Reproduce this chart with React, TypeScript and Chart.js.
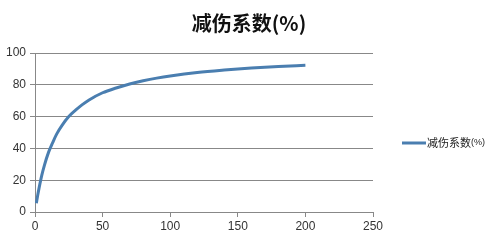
import React, { useEffect, useRef } from "react";
import { Chart, registerables } from "chart.js";

Chart.register(...registerables);

const titleText = "减伤系数(%)";
const seriesName = "减伤系数";
const seriesSuffix = "(%)";
const xValues = [1, 2, 3, 5, 7, 10, 13, 16, 20, 25, 30, 35, 40, 50, 60, 70, 80, 90, 100, 120, 140, 160, 180, 200];
const yValues = [5.5, 10.5, 15, 23, 29.5, 37.5, 43.5, 49, 54.5, 60, 64, 67.5, 70.5, 75, 78, 80.5, 82.5, 84.2, 85.6, 87.8, 89.3, 90.5, 91.5, 92.3];

const FONT = "'Liberation Sans', Arial, sans-serif";
const CJK = "'Noto Sans CJK SC', sans-serif";

const overlay = {
  id: "overlay",
  afterDraw(chart: any) {
    const ctx = chart.ctx;
    ctx.save();
    ctx.fillStyle = "#111";
    ctx.font = `bold 20px ${CJK}`;
    ctx.textAlign = "center";
    ctx.textBaseline = "middle";
    ctx.fillText(titleText, 249, 23);
    // legend
    const ly = 143;
    ctx.strokeStyle = "#4a7eb0";
    ctx.lineWidth = 3;
    ctx.beginPath();
    ctx.moveTo(402, ly);
    ctx.lineTo(426, ly);
    ctx.stroke();
    ctx.textAlign = "left";
    ctx.fillStyle = "#222";
    ctx.font = `11px ${CJK}`;
    ctx.fillText(seriesName, 427, ly);
    const w = ctx.measureText(seriesName).width;
    ctx.font = `9px ${FONT}`;
    ctx.fillText(seriesSuffix, 427 + w, ly);
    ctx.restore();
  },
};

export default function App() {
  const ref = useRef<HTMLCanvasElement>(null);
  useEffect(() => {
    document.body.style.margin = "0";
    const data = xValues.map((x, i) => ({ x, y: yValues[i] }));
    const chart = new Chart(ref.current!, {
      type: "scatter",
      data: {
        datasets: [
          {
            label: seriesName + seriesSuffix,
            data,
            showLine: true,
            borderColor: "#4a7eb0",
            borderWidth: 3,
            pointRadius: 0,
            cubicInterpolationMode: "monotone",
          },
        ],
      },
      options: {
        animation: false,
        responsive: false,
        maintainAspectRatio: false,
        layout: { padding: { top: 53, right: 127, left: 0, bottom: 0 } },
        plugins: { legend: { display: false }, title: { display: false }, tooltip: { enabled: false } },
        scales: {
          x: {
            type: "linear",
            min: 0,
            max: 250,
            ticks: { stepSize: 50, color: "#333", font: { family: FONT, size: 12 }, padding: 2 },
            grid: { drawOnChartArea: false, drawTicks: true, tickLength: 5, color: "#888" },
            border: { color: "#888" },
            afterFit: (s: any) => { s.height = 33; },
          },
          y: {
            min: 0,
            max: 100,
            ticks: { stepSize: 20, color: "#333", font: { family: FONT, size: 12 }, padding: 4 },
            grid: { color: "#888", tickLength: 5 },
            border: { color: "#888" },
            afterFit: (s: any) => { s.width = 35; },
          },
        },
      },
      plugins: [overlay],
    });
    return () => chart.destroy();
  }, []);
  return (
    <div style={{ width: 500, height: 245 }}>
      <canvas ref={ref} width={500} height={245} style={{ width: 500, height: 245 }} />
    </div>
  );
}
